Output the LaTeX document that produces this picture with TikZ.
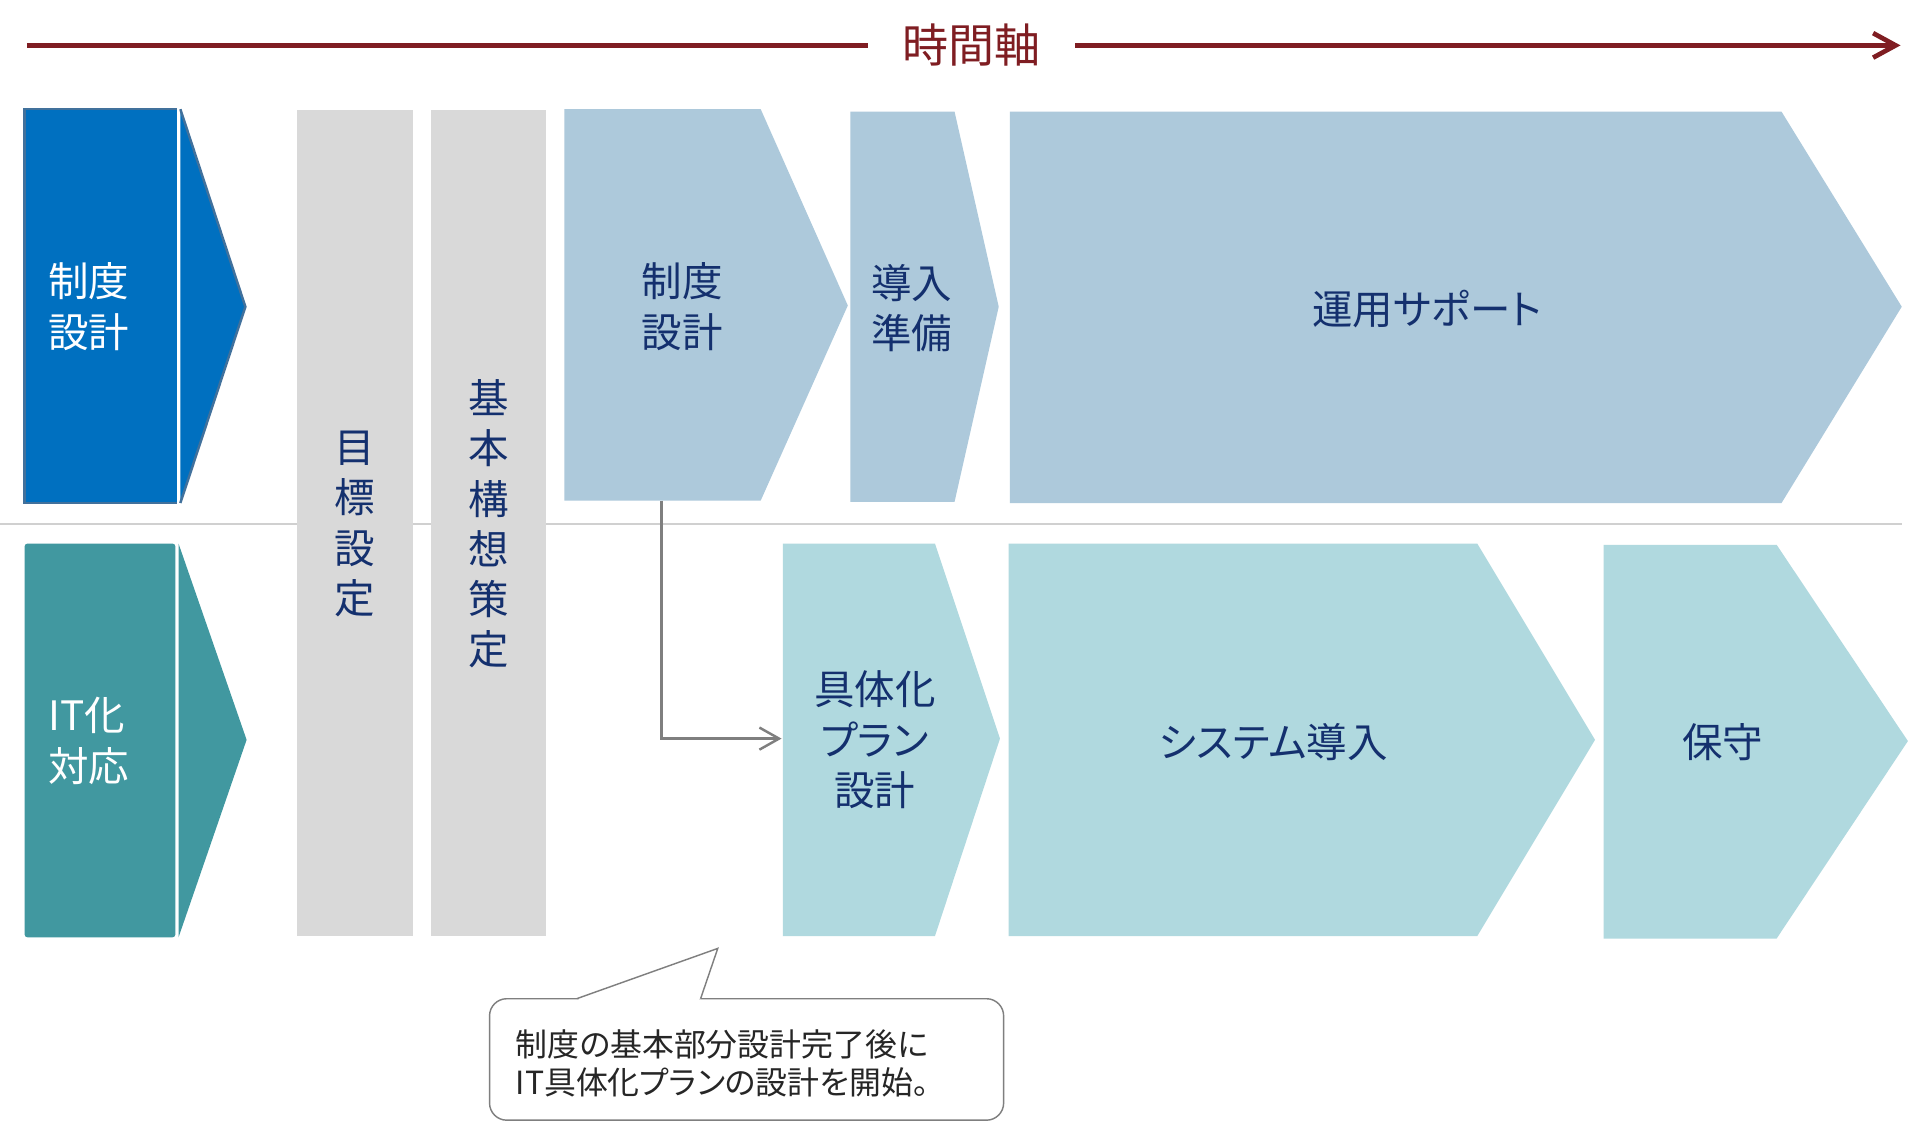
\documentclass[tikz,border=0pt]{standalone}
\usepackage{fontspec}
\setmainfont{Noto Sans CJK JP}[RawFeature=+palt]
\usetikzlibrary{arrows.meta}
\definecolor{axisred}{HTML}{7F1D22}
\definecolor{bluemain}{HTML}{0070C0}
\definecolor{blueedge}{HTML}{41719C}
\definecolor{tealmain}{HTML}{4198A0}
\definecolor{lightblue}{HTML}{ADC9DB}
\definecolor{lightteal}{HTML}{B0D9DF}
\definecolor{colgray}{HTML}{D9D9D9}
\definecolor{navytext}{HTML}{14306E}
\definecolor{divgray}{HTML}{D0D0D0}
\definecolor{conngray}{HTML}{7F7F7F}
\definecolor{notetext}{HTML}{262626}
\begin{document}
\begin{tikzpicture}[x=0.6pt,y=-0.6pt,
  lblfont/.style={font=\fontsize{19.8}{24.6}\selectfont},
  lbl/.style={lblfont,text=navytext,align=center,inner sep=0pt},
  wlbl/.style={lblfont,text=white,align=left,inner sep=0pt,anchor=west},
  phase1/.style={fill=lightblue},
  phase2/.style={fill=lightteal},
  colbox/.style={fill=colgray},
  axisline/.style={draw=axisred,line width=2.3pt},
  conn/.style={draw=conngray,line width=1.2pt},
  callout/.style={draw=conngray,line width=0.7pt,fill=white}]
\useasboundingbox (0,0) rectangle (1560,915);
\fill[white] (0,0) rectangle (1560,915);

% time axis
\node[inner xsep=16.6pt,inner ysep=0pt,text=axisred,font=\fontsize{22.5}{26}\selectfont] (tax) at (792,37) {時間軸};
\coordinate (axL) at (22,37);
\coordinate (axR) at (1549,37);
\draw[axisline] (axL) -- (tax.west);
\draw[axisline,-{Straight Barb[length=11pt,width=12pt,line width=2.3pt]}] (tax.east) -- (axR);

% divider
\draw[divgray,line width=0.9pt] (0,427) -- (1550,427);

% left category chevrons
\fill[bluemain] (20,89) rectangle (144,410);
\fill[bluemain] (147,89) -- (200,250) -- (147,410) -- cycle;
\draw[blueedge,line width=1.2pt] (144,89) -- (20,89) -- (20,410) -- (144,410);
\draw[blueedge,line width=1.2pt] (147,89) -- (200,250) -- (147,410);
\node[wlbl] (catA) at (39,250) {制度\\設計};

\fill[tealmain,rounded corners=1.5pt] (20,443) rectangle (143,764);
\fill[tealmain] (145.5,443) -- (201,603) -- (145.5,764) -- cycle;
\node[wlbl] (catB) at (39,604) {IT化\\対応};

% gray columns
\fill[colbox] (242,90) rectangle (337,763);
\fill[colbox] (351,90) rectangle (445,763);
\node[lbl] (goal) at (289.5,427) {目\\標\\設\\定};
\node[lbl] (concept) at (398,427) {基\\本\\構\\想\\策\\定};

% row 1 phases
\path[phase1] (460,89) -- (620,89) -- (691,249) -- (620,408) -- (460,408) -- cycle;
\node[lbl] (seido) at (556,250) {制度\\設計};
\path[phase1] (693,91) -- (778,91) -- (814,250) -- (778,409) -- (693,409) -- cycle;
\node[lbl] (dounyu) at (743,251) {導入\\準備};
\path[phase1] (823,91) -- (1452,91) -- (1550,250) -- (1452,410) -- (823,410) -- cycle;
\node[lbl] (unyou) at (1163,252) {運用サポート};

% row 2 phases
\path[phase2] (638,443) -- (762,443) -- (815,602) -- (762,763) -- (638,763) -- cycle;
\node[lbl] (gutai) at (713,603) {具体化\\プラン\\設計};
\path[phase2] (822,443) -- (1204,443) -- (1300,603) -- (1204,763) -- (822,763) -- cycle;
\node[lbl] (system) at (1038,605) {システム導入};
\path[phase2] (1307,444) -- (1448,444) -- (1555,604) -- (1448,765) -- (1307,765) -- cycle;
\node[lbl] (hoshu) at (1404,605) {保守};

% connector
\coordinate (seidoBottom) at (539,408);
\coordinate (gutaiLeft) at (637,602);
\draw[conn,-{Straight Barb[length=9.6pt,width=10.8pt,line width=1.2pt]}] (seidoBottom) |- (gutaiLeft);

% callout
\draw[callout,rounded corners=8.4pt] (399,814) rectangle (818,913);
\draw[white,line width=2pt] (472,814) -- (570,814);
\fill[white] (470,814.5) -- (585,773) -- (571,814.5) -- cycle;
\draw[conngray,line width=0.7pt] (470,814) -- (585,773) -- (571,814);
\node[anchor=west,align=left,inner sep=0pt,text=notetext,font=\fontsize{15.6}{18.6}\selectfont] (note) at (420,867) {制度の基本部分設計完了後に\\IT具体化プランの設計を開始。};
\end{tikzpicture}
\end{document}
